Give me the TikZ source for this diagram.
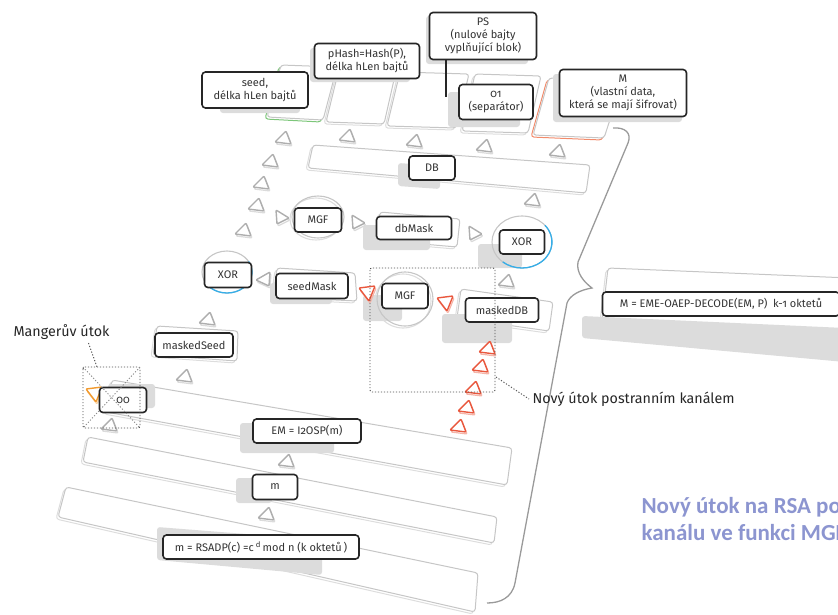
\documentclass[tikz,border=0pt]{standalone}
\usepackage{fontspec}
\setmainfont{Fira Sans}[Numbers=OldStyle]
\newfontfamily\titlefont{Carlito}
\usepackage{tikz}
\usetikzlibrary{positioning}

\definecolor{slabgray}{HTML}{C6C6C6}
\definecolor{shade}{HTML}{DCDCDC}
\definecolor{trigray}{HTML}{AEAEAE}
\definecolor{seedgreen}{HTML}{7DC67A}
\definecolor{morange}{HTML}{F28B6B}
\definecolor{xorblue}{HTML}{36AEE8}
\definecolor{attred}{HTML}{E9573D}
\definecolor{mangor}{HTML}{F29A2E}
\definecolor{titleblue}{HTML}{8C95D0}
\definecolor{bracegray}{HTML}{9A9A9A}

% skewed plate: lower line colour, four corners
\newcommand{\slab}[5]{%
  \draw[#1,line width=1pt,rounded corners=3pt,shift={(-2,2)}] #2--#3--#4--#5--cycle;
  \draw[slabgray,line width=1pt,rounded corners=3pt,fill=white] #2--#3--#4--#5--cycle;}
% small triangles
\def\shpup{(-9,3)--(7,5)--(2,-8)--cycle}
\def\shpdown{(-8,-6)--(8,-8)--(2,7)--cycle}
\def\shpright{(-5,-7)--(-4,7)--(8,1)--cycle}
\def\shpleft{(6,-7)--(5,7)--(-8,1)--cycle}
\newcommand{\tri}[3]{%
  \draw[#2!45,line width=1.2pt,rounded corners=1pt,shift={#1},shift={(1,2)}] #3;
  \draw[#2,line width=1.4pt,rounded corners=1pt,fill=white,shift={#1}] #3;}

\begin{document}
\begin{tikzpicture}[x=1pt,y=-1pt,font=\fontsize{11}{13}\selectfont]
  \tikzstyle{lbl}=[draw=black!85,line width=1.6pt,rounded corners=3.5pt,fill=white,
                   text=black!80,align=center,inner sep=1pt]
  \tikzstyle{note}=[font=\fontsize{14.3}{16}\selectfont,text=black!85]
  \tikzstyle{shadowbox}=[fill=shade,rounded corners=3pt]
  \tikzstyle{dots}=[black!70,line width=.9pt,dash pattern=on 1.2pt off 1.8pt]
  \tikzstyle{ring}=[slabgray,line width=1.1pt]
  \tikzstyle{heading}=[anchor=base west,text=titleblue,
                       font=\titlefont\bfseries\fontsize{23}{27}\selectfont]

  \path[use as bounding box,clip] (0,0) rectangle (838,614);

  % plates
  \slab{seedgreen}{(281,65)}{(337,67)}{(323,120)}{(267,117)}
  \slab{slabgray!60}{(339,69)}{(396,71)}{(384,124)}{(326,122)}
  \slab{slabgray!60}{(400,72)}{(469,74)}{(456,128)}{(387,126)}
  \slab{slabgray!60}{(475,74)}{(541,76)}{(528,133)}{(462,131)}
  \slab{morange}{(549,78)}{(623,80)}{(604,138)}{(533,135)}
  \slab{slabgray!60}{(313,145)}{(590,165)}{(586,193)}{(308,168)}
  \slab{slabgray!60}{(380,212)}{(460,219)}{(457,247)}{(376,240)}
  \slab{slabgray!60}{(277,268)}{(355,273)}{(357,301)}{(273,297)}
  \slab{slabgray!60}{(461,289)}{(553,302)}{(549,331)}{(457,318)}
  \slab{slabgray!60}{(157,326)}{(238,331)}{(237,361)}{(153,355)}
  \slab{slabgray!60}{(608,268)}{(850,278)}{(850,330)}{(602,320)}
  \slab{slabgray!60}{(112,380)}{(512,448)}{(507,485)}{(106,412)}
  \slab{slabgray!60}{(88,437)}{(497,517)}{(494,543)}{(83,462)}
  \slab{slabgray!60}{(66,487)}{(478,573)}{(475,612)}{(58,517)}

  % shadows
  \fill[shadowbox] (220,80) rectangle (300,113);
  \fill[shadowbox] (310,48) rectangle (410,82);
  \fill[shadowbox] (426,16) rectangle (528,64);
  \fill[shadowbox] (448,92) rectangle (520,127);
  \fill[shadowbox] (553,74) rectangle (682,122);
  \fill[shadowbox] (398,163) -- (440,166) -- (440,189) -- (398,186) -- cycle;
  \fill[shadowbox] (363,225) rectangle (430,250);
  \fill[shadowbox] (478,244) rectangle (522,268);
  \fill[shadowbox] (270,283) rectangle (332,304);
  \fill[shadowbox] (363,295) rectangle (402,321);
  \fill[shadowbox] (442,314) rectangle (512,343);
  \fill[shadowbox] (108,384) rectangle (155,408);
  \fill[shadowbox] (240,423) rectangle (334,453);
  \fill[shadowbox] (236,478) rectangle (272,503);
  \fill[shadowbox] (157,527) -- (322,540) -- (322,575) -- (157,560) -- cycle;
  \fill[shadowbox] (582,316) -- (845,328) -- (845,362) -- (582,338) -- cycle;

  % rings
  \draw[ring,slabgray!60,shift={(-2,2)}] (318,217) ellipse [x radius=26,y radius=21];
  \draw[ring] (318,217) ellipse [x radius=26,y radius=21];
  \draw[ring,slabgray!60,shift={(-2,2)}] (405,299) ellipse [x radius=28,y radius=27];
  \draw[ring] (405,299) ellipse [x radius=28,y radius=27];
  \draw[ring] (522,242) ellipse [x radius=30,y radius=26];
  \draw[xorblue,line width=1.3pt] (522,242) ++(-40:30 and 26)
       arc[start angle=-40,end angle=130,x radius=30,y radius=26];
  \draw[ring] (227,272) ellipse [x radius=25,y radius=21];
  \draw[xorblue,line width=1.3pt] (227,272) ++(-30:25 and 21)
       arc[start angle=-30,end angle=140,x radius=25,y radius=21];

  % triangles
  \foreach \p in {(284,139),(271,162),(262,184),(257,206),(244,231),(348,137),
                  (415,142),(485,147),(558,152),(533,201),(507,282),(208,320),
                  (185,377),(110,426),(287,462),(267,515)}
    {\tri{\p}{trigray}{\shpup}}
  \tri{(281,217)}{trigray}{\shpright}
  \tri{(357,222)}{trigray}{\shpright}
  \tri{(474,233)}{trigray}{\shpright}
  \tri{(264,279)}{trigray}{\shpleft}
  \tri{(367,294)}{attred}{\shpdown}
  \tri{(445,304)}{attred}{\shpdown}
  \foreach \p in {(488,349),(481,367),(474,389),(467,408),(459,427)}
    {\tri{\p}{attred}{\shpup}}
  \tri{(94,395)}{mangor}{\shpdown}

  % brace
  \draw[bracegray,line width=1.3pt] (613,128) .. controls (625,127) and (632,133) .. (628,143)
       -- (578,262) .. controls (576,273) and (584,282) .. (592,288)
       .. controls (580,290) and (570,295) .. (567,303)
       -- (515,583) .. controls (512,598) and (500,603) .. (487,603);

  % labels
  \node[lbl,minimum width=106pt,minimum height=36pt] (seed) at (255,90) {seed,\\délka hLen bajtů};
  \node[lbl,minimum width=105pt,minimum height=35pt] (phash) at (367,61) {pHash=Hash(P),\\délka hLen bajtů};
  \node[lbl,minimum width=107pt,minimum height=47pt] (ps) at (483,36) {PS\\(nulové bajty\\vyplňující blok)};
  \node[lbl,minimum width=74pt,minimum height=35pt] (sep) at (496,102) {01\\(separátor)};
  \node[lbl,minimum width=127pt,minimum height=47pt] (mdata) at (623,93) {M\\(vlastní data,\\která se mají šifrovat)};
  \node[lbl,minimum width=46pt,minimum height=24pt] (db) at (432,168) {DB};
  \node[lbl,minimum width=47pt,minimum height=24pt] (mgfa) at (318,220) {MGF};
  \node[lbl,minimum width=75pt,minimum height=23pt] (dbmask) at (414,228) {dbMask};
  \node[lbl,minimum width=45pt,minimum height=24pt] (xorb) at (522,242) {XOR};
  \node[lbl,minimum width=47pt,minimum height=25pt] (xora) at (228,275) {XOR};
  \node[lbl,minimum width=72pt,minimum height=25pt] (seedmask) at (312,286) {seedMask};
  \node[lbl,minimum width=46pt,minimum height=25pt] (mgfb) at (405,296) {MGF};
  \node[lbl,minimum width=73pt,minimum height=24pt] (maskeddb) at (502,310) {maskedDB};
  \node[lbl,minimum width=237pt,minimum height=24pt] (eme) at (721,304) {M = EME-OAEP-DECODE(EM, P)\enspace k-1 oktetů};
  \node[lbl,minimum width=78pt,minimum height=24pt] (maskedseed) at (194,345) {maskedSeed};
  \node[lbl,minimum width=47pt,minimum height=25pt] (oo) at (123,400) {00};
  \node[lbl,minimum width=108pt,minimum height=24pt] (em) at (307,431) {EM = I2OSP(m)};
  \node[lbl,minimum width=45pt,minimum height=25pt] (m) at (275,487) {m};
  \node[lbl,minimum width=196pt,minimum height=24pt] (rsadp) at (261,547)
       {m = RSADP(c) =c\,\textsuperscript{d}\,mod n (k oktetů\,)};

  \coordinate (pstail) at (446,97);
  \draw[black!85,line width=1.6pt] (ps.south -| pstail) -- (pstail);

  % attacks
  \node[note,anchor=west] (manger) at (10,332) {Mangerův útok};
  \coordinate (mbox) at (97,367);
  \draw[dots] ([xshift=27pt]manger.south) -- (mbox);
  \draw[dots,rounded corners=2pt] (83,367) rectangle (140,428);
  \draw[dots,black!45] (83,367) -- (140,428) (140,367) -- (83,428);

  \node[note,anchor=west] (side) at (529,399) {Nový útok postranním kanálem};
  \coordinate (sbox) at (496,377);
  \draw[dots,rounded corners=2pt] (370,268) rectangle (495,392);
  \draw[dots] (sbox) -- (side.west);

  \node[heading] (title1) at (638,513) {Nový útok na RSA po};
  \node[heading] (title2) at (638,540) {kanálu ve funkci MGF};
\end{tikzpicture}
\end{document}
